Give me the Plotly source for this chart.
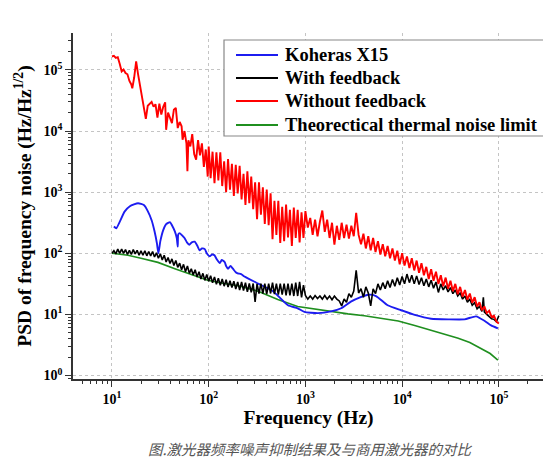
import plotly.graph_objects as go

# ---------------- data ----------------
red_freq = [
    10.0, 10.47, 10.96, 11.48, 12.02, 12.59, 13.18, 13.80, 14.45, 15.14,
    15.85, 16.22, 16.98, 17.78, 18.62, 19.50, 20.42, 21.38, 22.39, 23.44,
    24.55, 25.70, 26.92, 28.18, 29.51, 30.90, 32.36, 33.88, 35.48, 36.31,
    38.02, 39.81, 41.69, 43.65, 45.71, 47.86, 50.12, 52.48, 53.70, 56.23,
    58.88, 60.26, 61.66, 64.57, 67.61, 70.79, 74.13, 77.62, 81.28, 85.11,
    89.13, 93.33, 97.72,
    100, 104.7, 109.6, 114.8, 120.2, 125.9, 131.8, 138.0, 144.5, 151.4,
    158.5, 166.0, 173.8, 182.0, 190.5, 199.5, 208.9, 218.8, 229.1, 239.9,
    251.2, 263.0, 275.4, 288.4, 302.0, 316.2, 331.1, 346.7, 363.1, 380.2,
    398.1, 416.9, 436.5, 457.1, 478.6, 501.2, 524.8, 549.5, 575.4, 602.6,
    631.0, 660.7, 691.8, 724.4, 758.6, 794.3, 831.8, 871.0, 912.0, 955.0,
    1000, 1059, 1122, 1189, 1259, 1334, 1413, 1496, 1585, 1679,
    1778, 1884, 1995, 2113, 2239, 2371, 2512, 2661, 2818, 2985,
    3162, 3350, 3548, 3758, 3981, 4217, 4467, 4732, 5012, 5309,
    5623, 5957, 6310, 6683, 7079, 7499, 7943, 8414, 8913, 9441,
    10000, 10590, 11220, 11890, 12590, 13340, 14130, 14960, 15850, 16790,
    17780, 18840, 19950, 21130, 22390, 23710, 25120, 26610, 28180, 29850,
    31620, 33500, 35480, 37580, 39810, 42170, 44670, 47320, 50120, 53090,
    56230, 59570, 63100, 66830, 70790, 74990, 79430, 84140, 89130, 94410,
    100000,
]
red_psd = [
    1.66e5, 1.70e5, 1.58e5, 1.62e5, 1.26e5, 9.5e4, 1.02e5, 8.9e4, 8.5e4, 6.6e4,
    5.8e4, 5.0e4, 7.6e4, 1.38e5, 8.5e4, 5.5e4, 3.3e4, 2.1e4, 1.58e4, 2.6e4,
    2.75e4, 3.0e4, 2.5e4, 2.75e4, 1.66e4, 2.8e4, 1.86e4, 2.5e4, 2.95e4, 1.05e4,
    2.0e4, 1.66e4, 1.35e4, 2.24e4, 2.4e4, 1.12e4, 1.41e4, 1.2e4, 7.2e3, 1.0e4,
    6.3e3, 2.2e3, 7.1e3, 5.6e3, 8.9e3, 4.2e3, 3.4e3, 7.1e3, 4.0e3, 6.3e3,
    2.6e3, 5.0e3, 1.8e3,
    5600, 1700, 4600, 1410, 4500, 1550, 4500, 1260, 3200, 1000,
    3500, 1100, 2900, 870, 2800, 955, 2700, 760, 2000, 620,
    2200, 660, 1800, 525, 1450, 363, 1450, 427, 1200, 302,
    1100, 288, 955, 170, 725, 200, 725, 148, 575, 158,
    630, 182, 513, 132, 562, 178, 513, 151, 468, 178,
    490, 263, 380, 200, 355, 190, 331, 501, 224, 355,
    178, 316, 138, 282, 166, 316, 178, 295, 174, 282,
    190, 457, 200, 141, 209, 120, 190, 112, 178, 105,
    158, 95.5, 141, 89, 132, 83, 120, 76, 110, 66,
    100, 63, 89, 57.5, 83, 52.5, 76, 48, 69, 43.7,
    60, 38, 55, 35.5, 50, 31.6, 43.7, 28.8, 40, 26.3,
    35.5, 24, 31.6, 21.4, 28.2, 19.5, 25.1, 17.4, 21.9, 15.5,
    19.1, 13.5, 15.8, 11.7, 13.5, 10.5, 11.5, 9.1, 9.5, 7.6,
    7.1,
]

black_freq = [
    10.0, 10.47, 10.96, 11.48, 12.02, 12.59, 13.18, 13.80, 14.45, 15.14,
    15.85, 16.60, 17.38, 18.20, 19.05, 19.95, 20.89, 21.88, 22.91, 23.99,
    25.12, 26.30, 27.54, 28.84, 30.20, 31.62, 33.11, 34.67, 36.31, 38.02,
    39.81, 41.69, 43.65, 45.71, 47.86, 50.12, 52.48, 54.95, 57.54, 60.26,
    63.10, 66.07, 69.18, 72.44, 75.86, 79.43, 83.18, 87.10, 91.20, 95.50,
    100, 104.7, 109.6, 114.8, 120.2, 125.9, 131.8, 138.0, 144.5, 151.4,
    158.5, 166.0, 173.8, 182.0, 190.5, 199.5, 208.9, 218.8, 229.1, 239.9,
    251.2, 263.0, 275.4, 288.4, 302.0, 316.2, 331.1, 346.7, 363.1, 380.2,
    398.1, 416.9, 436.5, 457.1, 478.6, 501.2, 524.8, 549.5, 575.4, 602.6,
    631.0, 660.7, 691.8, 724.4, 758.6, 794.3, 831.8, 871.0, 912.0, 955.0,
    1000, 1059, 1122, 1189, 1259, 1334, 1413, 1496, 1585, 1679,
    1778, 1884, 1995, 2113, 2239, 2371, 2512, 2661, 2818, 2985,
    3162, 3350, 3548, 3758, 3981, 4217, 4467, 4732, 5012, 5309,
    5623, 5957, 6310, 6683, 7079, 7499, 7943, 8414, 8913, 9441,
    10000, 10590, 11220, 11890, 12590, 13340, 14130, 14960, 15850, 16790,
    17780, 18840, 19950, 21130, 22390, 23710, 25120, 26610, 28180, 29850,
    31620, 33500, 35480, 37580, 39810, 42170, 44670, 47320, 50120, 53090,
    56230, 59570, 63100, 66830, 69180, 70790, 74990, 79430, 84140, 89130,
    94410, 100000,
]
black_psd = [
    100, 110, 98, 117, 100, 117, 100, 115, 95.5, 112,
    95.5, 115, 98, 112, 93, 110, 93, 110, 91, 107,
    91, 107, 87, 102, 83, 98, 78, 93, 72, 85,
    68, 81, 63, 76, 59, 69, 54, 66, 50, 62,
    47, 56, 44, 54, 41, 50, 38, 47, 36, 45,
    35, 43, 33, 41, 31, 39, 30, 38, 29, 37,
    28, 35.5, 27.5, 35, 26, 34, 25, 34, 24.5, 33,
    23.4, 32, 23, 32, 16, 31.6, 22, 32, 22, 32,
    21.4, 32, 22, 33, 21.4, 32, 21, 32, 21, 32,
    20.4, 32, 20.4, 32, 20, 33, 20, 34, 19, 30,
    20.4, 17.8, 20, 17.8, 20.4, 18.2, 20, 17.8, 20.4, 17.8,
    20, 17.4, 20, 17.8, 16.6, 13.8, 17.8, 15.8, 21.9, 19.1,
    24, 52.5, 22.4, 26.3, 19.1, 28.2, 22.4, 13.8, 26.3, 21.9,
    31.6, 25.1, 33.1, 26.3, 35.5, 27.5, 37.2, 28.8, 39.8, 30.2,
    41.7, 31.6, 45.7, 33.1, 43.7, 31.6, 42.7, 30.9, 39.8, 29.5,
    38, 28.2, 36.3, 26.9, 33.9, 22.9, 31.6, 25.1, 29.5, 23.4,
    27.5, 21.9, 25.1, 20, 22.4, 17.8, 20, 15.8, 17.8, 14.1,
    15.5, 12.3, 13.5, 11.2, 19, 11.0, 10.0, 9.3, 8.5, 8.3,
    7.6, 9.5,
]

blue_freq = [
    10.47, 11.09, 13.49, 15.31, 18.62, 21.38, 23.44, 25.70, 27.54, 29.17,
    30.20, 31.62, 33.88, 36.31, 39.81, 41.69, 44.67, 46.77, 47.86, 48.42,
    50.12, 52.48, 56.23, 59.57, 63.10, 66.83, 71.61, 75.86, 80.35, 85.11,
    91.20, 95.50, 102.3, 108.4, 114.8, 121.6, 130.3, 136.5, 146.2, 151.4,
    158.5, 167.9, 177.8, 190.5, 199.5, 216.3, 234.4, 323.6, 462.4, 660.7,
    831.8, 977.2, 1349, 1841, 2344, 2951, 3673, 4467, 5370, 7079,
    9772, 13490, 19950, 29850, 44160, 58210, 71610, 83180, 97720,
]
blue_psd = [
    275, 257, 480, 590, 660, 615, 490, 347, 229, 145,
    100, 158, 240, 300, 324, 288, 229, 178, 129, 204,
    214, 200, 178, 151, 138, 151, 155, 135, 112, 120,
    117, 100, 89, 95.5, 93, 79, 69, 78, 72, 62,
    56, 62, 56, 49, 47, 45.7, 41.7, 32, 24, 14.1,
    12.6, 11, 10.5, 11.2, 12.6, 16.2, 19, 21, 20, 14.1,
    11.7, 9.8, 8.5, 8.3, 8.3, 9.3, 7.8, 6.6, 5.9,
]

green_freq = [
    10.0, 14.62, 19.95, 29.85, 44.67, 66.07, 97.72, 144.5, 213.8, 323.6,
    518.8, 831.8, 1230, 1841, 2754, 4074, 6026, 9120, 13490, 19950,
    26920, 38020, 50120, 65310, 81280, 97720,
]
green_psd = [
    100, 93, 83, 71, 56, 45.7, 36.3, 32, 28.8, 24,
    17.5, 13.5, 12.3, 11.0, 10.2, 9.5, 8.7, 7.8, 6.6, 5.5,
    4.9, 4.07, 3.47, 2.75, 2.29, 1.78,
]

series_names = ["Koheras X15", "With feedback", "Without feedback",
                "Theorectical thermal noise limit"]
series_colors = ["#1c1cf0", "#000000", "#ff0000", "#1f8f1f"]
x_tick_vals = [10, 100, 1000, 10000, 100000]
x_tick_text = ["10<sup>1</sup>", "10<sup>2</sup>", "10<sup>3</sup>",
               "10<sup>4</sup>", "10<sup>5</sup>"]
y_tick_vals = [1, 10, 100, 1000, 10000, 100000]
y_tick_text = ["10<sup>0</sup>", "10<sup>1</sup>", "10<sup>2</sup>",
               "10<sup>3</sup>", "10<sup>4</sup>", "10<sup>5</sup>"]
caption = "图.激光器频率噪声抑制结果及与商用激光器的对比"

# ---------------- figure ----------------
SERIF = "Liberation Serif, Times New Roman, serif"
L, R, T, B = 65, 15, 25, 90
W, H = 551, 461
PW, PH = W - L - R, H - T - B


def px_x(px):
    return (px - L) / PW


def px_y(py):
    return (H - B - py) / PH


fig = go.Figure()
fig.add_trace(go.Scatter(x=green_freq, y=green_psd, mode="lines",
                         name=series_names[3], showlegend=False,
                         line=dict(color=series_colors[3], width=1.6)))
fig.add_trace(go.Scatter(x=blue_freq, y=blue_psd, mode="lines",
                         name=series_names[0], showlegend=False,
                         line=dict(color=series_colors[0], width=1.9, shape="spline", smoothing=0.5)))
fig.add_trace(go.Scatter(x=black_freq, y=black_psd, mode="lines",
                         name=series_names[1], showlegend=False,
                         line=dict(color=series_colors[1], width=1.6)))
fig.add_trace(go.Scatter(x=red_freq, y=red_psd, mode="lines",
                         name=series_names[2], showlegend=False,
                         line=dict(color=series_colors[2], width=1.9)))

minor_x = [m * 10 ** e for e in range(0, 6) for m in range(2, 10) if 4 < m * 10 ** e < 2.9e5]
minor_y = [m * 10 ** e for e in range(-1, 6) for m in range(2, 10) if 0.88 < m * 10 ** e < 4.0e5]

axis_common = dict(
    type="log", showline=True, linecolor="#333333", linewidth=1.5,
    ticks="outside", ticklen=6, tickwidth=1.2, tickcolor="#333333",
    showgrid=True, gridcolor="#c4c4c4", griddash="dot", gridwidth=1,
    zeroline=False, mirror=False, automargin=False,
    tickfont=dict(family=SERIF, size=14, color="black", weight="bold"),
    tickmode="array",
)

# framed legend drawn in paper coordinates, like the reference's
shapes = [dict(type="rect", xref="paper", yref="paper",
               x0=px_x(216), x1=px_x(540), y0=px_y(128), y1=px_y(32),
               line=dict(color="#888888", width=1.2), fillcolor="white", layer="above")]
annotations = []
row_y = [47, 70, 93, 117]
for name, color, ry in zip(series_names, series_colors, row_y):
    shapes.append(dict(type="line", xref="paper", yref="paper",
                       x0=px_x(228), x1=px_x(270), y0=px_y(ry), y1=px_y(ry),
                       line=dict(color=color, width=2), layer="above"))
    annotations.append(dict(text="<b>" + name + "</b>", xref="paper", yref="paper",
                            x=px_x(275), y=px_y(ry), xanchor="left", yanchor="middle",
                            showarrow=False,
                            font=dict(family=SERIF, size=18.5, color="black")))

annotations.append(dict(
    text=caption, xref="paper", yref="paper", x=px_x(138), y=px_y(440),
    xanchor="left", yanchor="middle", showarrow=False,
    font=dict(family="Noto Sans CJK SC", size=14.5, color="#555555", style="italic"),
))

fig.update_layout(
    width=W, height=H,
    margin=dict(l=L, r=R, t=T, b=B),
    paper_bgcolor="white", plot_bgcolor="white",
    showlegend=False,
    xaxis=dict(
        **axis_common,
        range=[0.597, 5.467],
        tickvals=x_tick_vals, ticktext=x_tick_text,
        minor=dict(tickmode="array", tickvals=minor_x, ticks="outside",
                   ticklen=3, tickwidth=1, tickcolor="#333333", showgrid=False),
        title=dict(text="<b>Frequency (Hz)</b>", standoff=2,
                   font=dict(family=SERIF, size=19.5, color="black")),
    ),
    yaxis=dict(
        **axis_common,
        range=[-0.057, 5.605],
        tickvals=y_tick_vals, ticktext=y_tick_text,
        minor=dict(tickmode="array", tickvals=minor_y, ticks="outside",
                   ticklen=3, tickwidth=1, tickcolor="#333333", showgrid=False),
        title=dict(text="<b>PSD of frequency noise (Hz/Hz<sup>1/2</sup>)</b>", standoff=7,
                   font=dict(family=SERIF, size=19.5, color="black")),
    ),
    shapes=shapes,
    annotations=annotations,
)

fig.write_html("out.html")
